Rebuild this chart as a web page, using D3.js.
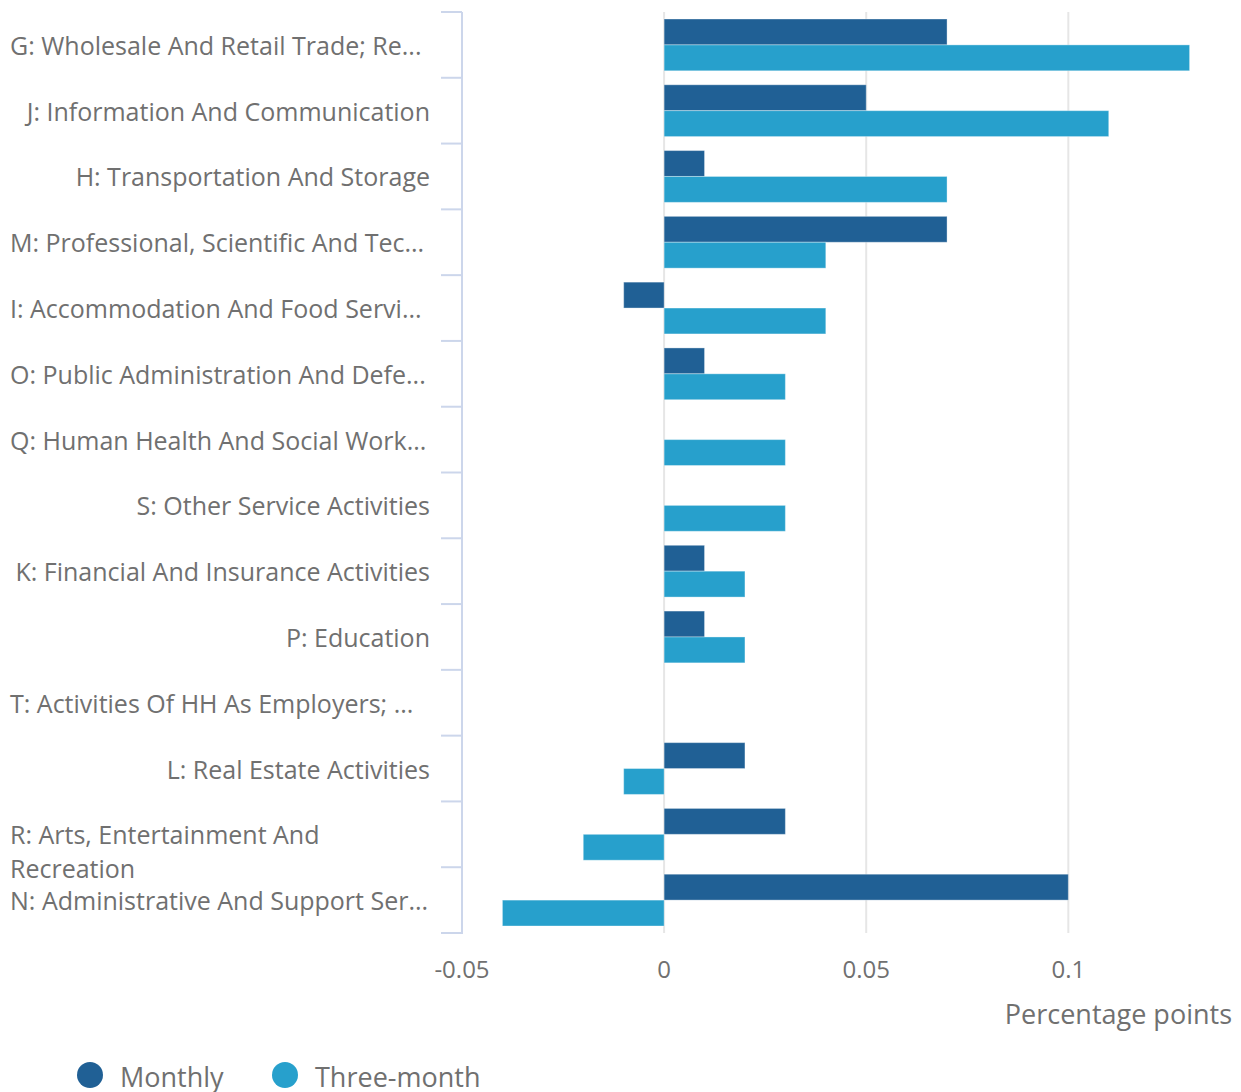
<!DOCTYPE html>
<html>
<head>
<meta charset="utf-8">
<script src="https://cdn.jsdelivr.net/npm/d3@7"></script>
<style>
  body { margin: 0; background: #fff; }
  svg { font-family: "Open Sans", sans-serif; }
</style>
</head>
<body>
<svg id="chart" width="1241" height="1092"></svg>
<script>
const categories = [
  "G: Wholesale And Retail Trade; Re...",
  "J: Information And Communication",
  "H: Transportation And Storage",
  "M: Professional, Scientific And Tec...",
  "I: Accommodation And Food Servi...",
  "O: Public Administration And Defe...",
  "Q: Human Health And Social Work...",
  "S: Other Service Activities",
  "K: Financial And Insurance Activities",
  "P: Education",
  "T: Activities Of HH As Employers; ...",
  "L: Real Estate Activities",
  "R: Arts, Entertainment And\nRecreation",
  "N: Administrative And Support Ser..."
];
const seriesNames = ["Monthly", "Three-month"];
const monthly    = [0.07, 0.05, 0.01, 0.07, -0.01, 0.01, 0, 0, 0.01, 0.01, 0, 0.02, 0.03, 0.1];
const threeMonth = [0.13, 0.11, 0.07, 0.04, 0.04, 0.03, 0.03, 0.03, 0.02, 0.02, 0, -0.01, -0.02, -0.04];
const xTicks = [-0.05, 0, 0.05, 0.1];

const colors = ["#206095", "#27a0cc"];
const textColor = "#707070";

const svg = d3.select("#chart");

const x = d3.scaleLinear().domain([-0.05, 0.14]).range([462, 1230]);
const y = d3.scaleBand().domain(categories).range([12, 933]);
const inner = d3.scaleBand().domain(seriesNames).range([7, y.bandwidth() - 7]);

// gridlines
svg.append("g")
  .selectAll("line")
  .data(xTicks.filter(d => d > -0.05))
  .enter()
  .append("line")
  .attr("x1", d => x(d)).attr("x2", d => x(d))
  .attr("y1", 12).attr("y2", 933)
  .attr("stroke", "#e6e6e6")
  .attr("stroke-width", 2);

// x tick labels (plain hyphen for negatives)
svg.append("g")
  .selectAll("text")
  .data(xTicks)
  .enter()
  .append("text")
  .attr("x", d => x(d))
  .attr("y", 978)
  .attr("text-anchor", "middle")
  .attr("fill", textColor)
  .attr("font-size", "24px")
  .text(d => String(d));

svg.append("text")
  .attr("x", 1232)
  .attr("y", 1024)
  .attr("text-anchor", "end")
  .attr("fill", textColor)
  .attr("font-size", "27px")
  .text("Percentage points");

// bars
const rows = categories.map((c, i) => ({ cat: c, values: [monthly[i], threeMonth[i]] }));
const groups = svg.append("g")
  .selectAll("g")
  .data(rows)
  .enter()
  .append("g")
  .attr("transform", d => `translate(0,${y(d.cat)})`);

groups.selectAll("rect")
  .data(d => d.values.map((v, j) => ({ v, s: seriesNames[j], j })))
  .enter()
  .append("rect")
  .filter(d => d.v !== 0)
  .attr("x", d => x(Math.min(0, d.v)))
  .attr("width", d => Math.abs(x(d.v) - x(0)))
  .attr("y", d => inner(d.s))
  .attr("height", inner.bandwidth())
  .attr("fill", d => colors[d.j])
  .attr("stroke", "rgba(255,255,255,0.35)")
  .attr("stroke-width", 1);

// y axis line and ticks
const axisColor = "#ccd6eb";
svg.append("line")
  .attr("x1", 462).attr("x2", 462)
  .attr("y1", 12).attr("y2", 934)
  .attr("stroke", axisColor)
  .attr("stroke-width", 2);

const bounds = categories.map(c => y(c)).concat([y.range()[1]]);
svg.append("g")
  .selectAll("line")
  .data(bounds)
  .enter()
  .append("line")
  .attr("x1", 441).attr("x2", 462)
  .attr("y1", d => d).attr("y2", d => d)
  .attr("stroke", axisColor)
  .attr("stroke-width", 2);

// category labels
const isLong = d => d.includes("...") || d.includes("\n");
const labels = svg.append("g")
  .selectAll("text")
  .data(categories)
  .enter()
  .append("text")
  .attr("fill", textColor)
  .attr("font-size", "25px")
  .attr("text-anchor", d => isLong(d) ? "start" : "end")
  .attr("x", d => isLong(d) ? 10 : 430)
  .attr("y", d => y(d) + y.bandwidth() / 2 + 10);

labels.selectAll("tspan")
  .data(d => d.split("\n"))
  .enter()
  .append("tspan")
  .attr("x", function () { return this.parentNode.getAttribute("x"); })
  .attr("dy", (d, i) => i === 0 ? 0 : 34)
  .text(d => d);

// legend
const legend = svg.append("g")
  .selectAll("g")
  .data(seriesNames)
  .enter()
  .append("g")
  .attr("transform", (d, i) => `translate(${[90, 285][i]},1075)`);

legend.append("circle")
  .attr("r", 13)
  .attr("fill", (d, i) => colors[i]);

legend.append("text")
  .attr("x", 30)
  .attr("y", 12)
  .attr("fill", textColor)
  .attr("font-size", "27px")
  .text(d => d);
</script>
</body>
</html>
